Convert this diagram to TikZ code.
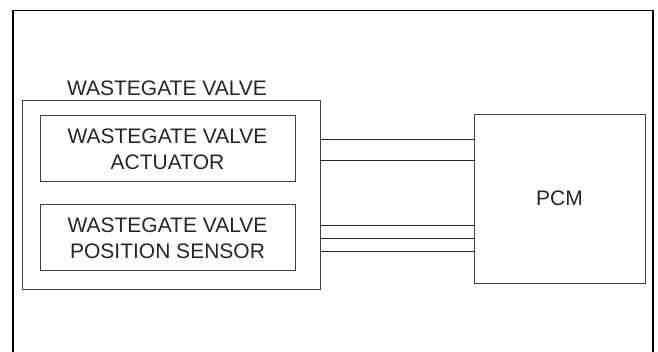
\documentclass[tikz,border=0pt]{standalone}
\usepackage{fontspec}
\setmainfont{Liberation Sans}
\begin{document}
\begin{tikzpicture}[x=1pt,y=-1pt,
  box/.style={draw=black!75,line width=0.9pt},
  lbl/.style={font=\fontsize{21}{26}\selectfont,text=black!85,align=center,inner sep=0pt},
  wire/.style={draw=black!85,line width=0.9pt}]
\useasboundingbox (0,0) rectangle (658,352);
% frame
\draw[line width=1.1pt] (13,352) -- (13,10.5) -- (653,10.5) -- (653,352);
% wastegate valve
\draw[box] (22,100) rectangle (320,289);
\node[lbl] (wglbl) at (167,88) {WASTEGATE VALVE};
\node[box,minimum width=255pt,minimum height=66pt,inner sep=0pt] (act) at (167.5,148) {};
\node[lbl] at ([yshift=-1pt]act.center) {WASTEGATE VALVE\\ACTUATOR};
\node[box,minimum width=255pt,minimum height=66pt,inner sep=0pt] (sen) at (167.5,237) {};
\node[lbl] at ([yshift=-1pt]sen.center) {WASTEGATE VALVE\\POSITION SENSOR};
\coordinate (wgr) at (320,0);
% PCM
\node[box,minimum width=171pt,minimum height=169pt,inner sep=0pt] (pcm) at (559.5,198.5) {};
\node[lbl] at (pcm.center) {PCM};
% wires
\foreach \yy in {139.5,160.5,225.5,238,251}{
  \draw[wire] (wgr |- 0,\yy) -- (pcm.west |- 0,\yy);
}
\end{tikzpicture}
\end{document}
